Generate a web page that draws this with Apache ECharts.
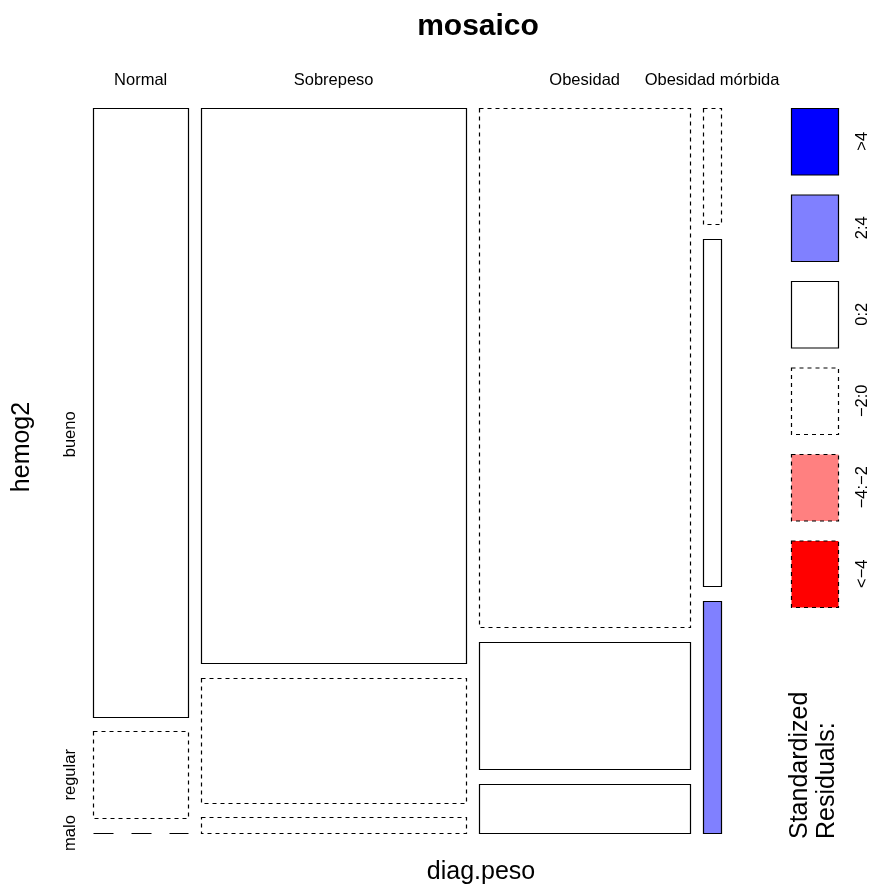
<!DOCTYPE html>
<html>
<head>
<meta charset="utf-8">
<title>mosaico</title>
<script src="https://cdn.jsdelivr.net/npm/echarts@6/dist/echarts.min.js"></script>
<style>
  html, body { margin: 0; padding: 0; background: #fff; }
  #chart { width: 875px; height: 888px; }
</style>
</head>
<body>
<div id="chart"></div>
<script>
// Categories
const weightClasses = ['Normal', 'Sobrepeso', 'Obesidad', 'Obesidad mórbida'];
const hemoLevels = ['bueno', 'regular', 'malo'];

// Counts per hemog2 level, one value per diag.peso class
const countsBueno = [28, 71, 53, 1];
const countsRegular = [4, 16, 13, 3];
const countsMalo = [0, 2, 5, 2];

// Residual legend entries (top to bottom)
const residualLabels = ['>4', '2:4', '0:2', '\u22122:0', '\u22124:\u22122', '<\u22124'];
const residualFills = ['#0000FF', '#8080FF', '#FFFFFF', '#FFFFFF', '#FF8080', '#FF0000'];
const residualDashed = [false, false, false, true, true, true];

const FONT = '"Liberation Sans", Arial, Helvetica, sans-serif';
const GAP_X = 0.0202;
const GAP_Y = 0.0203;

const rows = [countsBueno, countsRegular, countsMalo];
const colTotals = weightClasses.map((_, j) => rows.reduce((s, r) => s + r[j], 0));
const rowTotals = rows.map(r => r.reduce((a, b) => a + b, 0));
const grand = rowTotals.reduce((a, b) => a + b, 0);

// Shading class from Pearson residuals: 0 '>4', 1 '2:4', 2 '0:2', 3 '-2:0', 4 '-4:-2', 5 '<-4'
function residualClass(obs, exp) {
  const r = (obs - exp) / Math.sqrt(exp);
  if (r > 4) return 0;
  if (r > 2) return 1;
  if (r >= 0) return 2;
  if (r > -2) return 3;
  if (r > -4) return 4;
  return 5;
}

// Build mosaic tiles in unit coordinates
const availW = 1 - GAP_X * (weightClasses.length - 1);
const availH = 1 - GAP_Y * (hemoLevels.length - 1);
const tiles = [];
const colCenters = [];
const firstColRowCenters = [];
let xCursor = 0;
weightClasses.forEach((name, j) => {
  const w = availW * colTotals[j] / grand;
  let yCursor = 0;
  rows.forEach((r, i) => {
    const h = availH * r[j] / colTotals[j];
    const exp = rowTotals[i] * colTotals[j] / grand;
    tiles.push([xCursor, xCursor + w, yCursor, yCursor + h, residualClass(r[j], exp)]);
    if (j === 0) firstColRowCenters.push(yCursor + h / 2);
    yCursor += h + GAP_Y;
  });
  colCenters.push(xCursor + w / 2);
  xCursor += w + GAP_X;
});

const chart = echarts.init(document.getElementById('chart'), null, { renderer: 'canvas' });

const LINE_W = 1.2;
const SMALL = '16.5px ' + FONT;
const BIG = '25px ' + FONT;

const legendTop = 108, legendBoxH = 66.5, legendStep = 86.5, legendX = 791, legendW = 47;
const legendGraphics = [];
residualLabels.forEach((lab, k) => {
  const y0 = legendTop + k * legendStep;
  legendGraphics.push({
    type: 'rect',
    shape: { x: legendX + 0.5, y: y0 + 0.5, width: legendW, height: legendBoxH },
    style: {
      fill: residualFills[k],
      stroke: '#000',
      lineWidth: LINE_W,
      lineDash: residualDashed[k] ? [4, 4] : null
    }
  });
  legendGraphics.push({
    type: 'text',
    x: 862, y: y0 + legendBoxH / 2,
    rotation: Math.PI / 2,
    style: { text: lab, font: SMALL, fill: '#000', align: 'center', verticalAlign: 'middle' }
  });
});

// the top row label sits a little below its tile centre
const rowLabelShift = [22, 0, 0];

const option = {
  backgroundColor: '#fff',
  animation: false,
  grid: { left: 93, right: 154, top: 108, bottom: 55 },
  xAxis: { type: 'value', min: 0, max: 1, show: false },
  yAxis: { type: 'value', min: 0, max: 1, inverse: true, show: false },
  graphic: [
    { type: 'text', x: 478, y: 27,
      style: { text: 'mosaico', font: 'bold 30px ' + FONT, fill: '#000', align: 'center', verticalAlign: 'middle' } },
    { type: 'text', x: 481, y: 872,
      style: { text: 'diag.peso', font: BIG, fill: '#000', align: 'center', verticalAlign: 'middle' } },
    { type: 'text', x: 22, y: 447, rotation: Math.PI / 2,
      style: { text: 'hemog2', font: BIG, fill: '#000', align: 'center', verticalAlign: 'middle' } },
    { type: 'text', x: 800, y: 839, rotation: Math.PI / 2,
      style: { text: 'Standardized', font: BIG, fill: '#000', align: 'left', verticalAlign: 'middle' } },
    { type: 'text', x: 827, y: 839, rotation: Math.PI / 2,
      style: { text: 'Residuals:', font: BIG, fill: '#000', align: 'left', verticalAlign: 'middle' } }
  ].concat(legendGraphics),
  series: [
    {
      type: 'custom',
      coordinateSystem: 'cartesian2d',
      data: tiles,
      clip: false,
      renderItem: function (params, api) {
        const p0 = api.coord([api.value(0), api.value(2)]);
        const p1 = api.coord([api.value(1), api.value(3)]);
        const cls = api.value(4);
        const x = Math.round(p0[0]) + 0.5, y = Math.round(p0[1]) + 0.5;
        const w = Math.round(p1[0]) - Math.round(p0[0]);
        const h = Math.round(p1[1]) - Math.round(p0[1]);
        if (h === 0) {
          // empty cell collapses to a dashed segment
          return {
            type: 'line',
            shape: { x1: x, y1: y, x2: x + w, y2: y },
            style: { stroke: '#000', lineWidth: LINE_W, lineDash: [20, 18] }
          };
        }
        return {
          type: 'rect',
          shape: { x: x, y: y, width: w, height: h },
          style: {
            fill: residualFills[cls],
            stroke: '#000',
            lineWidth: LINE_W,
            lineDash: residualDashed[cls] ? [4, 4] : null
          }
        };
      }
    },
    {
      // column labels above the tiles
      type: 'custom',
      coordinateSystem: 'cartesian2d',
      data: weightClasses.map((n, j) => [colCenters[j], 0]),
      clip: false,
      silent: true,
      renderItem: function (params, api) {
        const p = api.coord([api.value(0), 0]);
        return {
          type: 'text',
          x: p[0], y: 80,
          style: { text: weightClasses[params.dataIndex], font: SMALL, fill: '#000', align: 'center', verticalAlign: 'middle' }
        };
      }
    },
    {
      // row labels beside the first column
      type: 'custom',
      coordinateSystem: 'cartesian2d',
      data: hemoLevels.map((n, i) => [0, firstColRowCenters[i]]),
      clip: false,
      silent: true,
      renderItem: function (params, api) {
        const p = api.coord([0, api.value(1)]);
        return {
          type: 'text',
          x: 70, y: p[1] + rowLabelShift[params.dataIndex],
          rotation: Math.PI / 2,
          style: { text: hemoLevels[params.dataIndex], font: SMALL, fill: '#000', align: 'center', verticalAlign: 'middle' }
        };
      }
    }
  ]
};

chart.setOption(option);
</script>
</body>
</html>
